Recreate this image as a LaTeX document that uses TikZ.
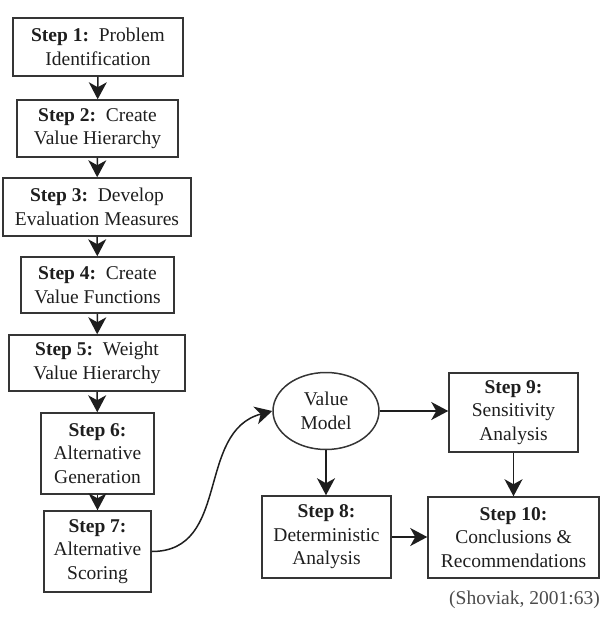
\documentclass[tikz,border=0pt]{standalone}
\usepackage{fontspec}
\setmainfont{Liberation Serif}
\usetikzlibrary{arrows.meta,shapes.geometric}
\definecolor{ink}{HTML}{1E1E1E}
\tikzset{
  box/.style={draw=ink!90, line width=1.5pt, text=ink, align=center, inner sep=0pt,
    font=\fontsize{19.5}{23.5}\selectfont},
  oval/.style={box, ellipse},
  arr/.style={draw=ink, line width=1.5pt, -{Stealth[length=17pt,width=18pt,inset=5pt]}},
}
\begin{document}
\begin{tikzpicture}[x=1pt,y=-1pt]
\useasboundingbox (0,0) rectangle (600,620);
\node[box, minimum width=170, minimum height=58] (s1) at (98,47) {\textbf{Step 1:}\ \ Problem\\Identification};
\node[box, minimum width=161, minimum height=57] (s2) at (97.5,128.5) {\textbf{Step 2:}\ \ Create\\Value Hierarchy};
\node[box, minimum width=188, minimum height=58] (s3) at (97,207) {\textbf{Step 3:}\ \ Develop\\Evaluation Measures};
\node[box, minimum width=153, minimum height=56] (s4) at (97.5,285) {\textbf{Step 4:}\ \ Create\\Value Functions};
\node[box, minimum width=176, minimum height=56] (s5) at (97,363) {\textbf{Step 5:}\ \ Weight\\Value Hierarchy};
\node[box, minimum width=113, minimum height=81] (s6) at (97.5,453.5) {\textbf{Step 6:}\\Alternative\\Generation};
\node[box, minimum width=107, minimum height=81] (s7) at (97.5,551.5) {\textbf{Step 7:}\\Alternative\\Scoring};
\node[oval, minimum width=106, minimum height=77] (vm) at (326,411) {Value\\Model};
\node[box, minimum width=129, minimum height=79] (s9) at (513.5,412.5) {\textbf{Step 9:}\\Sensitivity\\Analysis};
\node[box, minimum width=129, minimum height=82] (s8) at (326.5,537) {\textbf{Step 8:}\\Deterministic\\Analysis};
\node[box, minimum width=171, minimum height=81] (s10) at (513.5,537.5) {\textbf{Step 10:}\\Conclusions \&\\Recommendations};
\node[anchor=east, text=ink!80, inner sep=0pt, font=\fontsize{19.5}{23.5}\selectfont] (cite) at (600,600) {(Shoviak, 2001:63)};
\draw[arr] (s1) -- (s2);
\draw[arr] (s2) -- (s3);
\draw[arr] (s3) -- (s4);
\draw[arr] (s4) -- (s5);
\draw[arr] (s5) -- (s6);
\draw[arr] (s6) -- (s7);
\draw[arr] (s7.east) to[out=0,in=195,looseness=1.1] (vm.west);
\draw[arr] (vm.east) -- (s9.west |- vm.east);
\draw[arr] (vm.south) -- (s8.north -| vm.south);
\draw[arr] (s9.south) -- (s10.north -| s9.south);
\draw[arr] (s8.east) -- (s10.west |- s8.east);
\end{tikzpicture}
\end{document}
